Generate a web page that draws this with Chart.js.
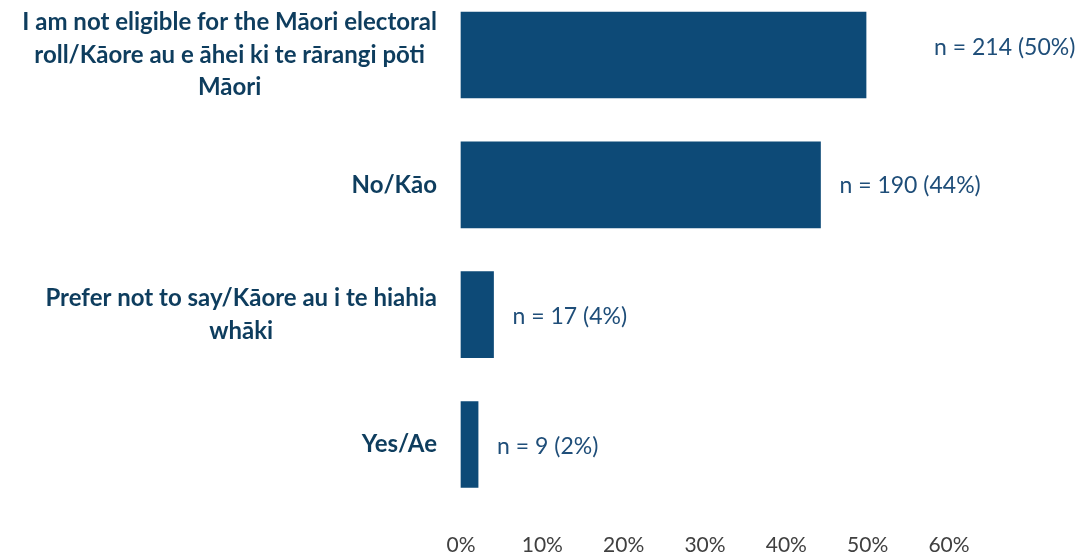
<!DOCTYPE html>
<html>
<head>
<meta charset="utf-8">
<script src="https://cdn.jsdelivr.net/npm/chart.js@4.4.1/dist/chart.umd.min.js"></script>
<style>
  html, body { margin: 0; padding: 0; background: #ffffff; }
  #wrap { width: 1079px; height: 552px; position: relative; }
</style>
</head>
<body>
<div id="wrap"><canvas id="c"></canvas></div>
<script>
// ---- data ----
const categories = [
  ["I am not eligible for the Māori electoral", "roll/Kāore au e āhei ki te rārangi pōti", "Māori"],
  ["No/Kāo"],
  ["Prefer not to say/Kāore au i te hiahia", "whāki"],
  ["Yes/Ae"]
];
const counts = [214, 190, 17, 9];
const percents = [49.8, 44.2, 4.0, 2.1];
const pctLabels = ["50%", "44%", "4%", "2%"];
const xTicks = [0, 10, 20, 30, 40, 50, 60];

const LABEL_FONT = "Lato, 'Open Sans', sans-serif";

const labelPlugin = {
  id: 'customLabels',
  afterDatasetsDraw(chart, args, opts) {
    const ctx = chart.ctx;
    const meta = chart.getDatasetMeta(0);
    const yScale = chart.scales.y;
    ctx.save();
    ctx.font = opts.catFont;
    ctx.fillStyle = opts.catColor;
    ctx.textBaseline = 'middle';
    ctx.textAlign = 'center';
    categories.forEach((lines, i) => {
      const yc = yScale.getPixelForTick(i);
      let maxW = 0;
      lines.forEach(l => { maxW = Math.max(maxW, ctx.measureText(l).width); });
      const right = chart.chartArea.left - opts.catGap;
      const cx = right - maxW / 2;
      const n = lines.length;
      lines.forEach((l, k) => {
        const y = yc + (k - (n - 1) / 2) * opts.lineHeight;
        ctx.fillText(l, cx, y);
      });
    });
    ctx.font = opts.valFont;
    ctx.fillStyle = opts.valColor;
    ctx.textAlign = 'left';
    meta.data.forEach((bar, i) => {
      const sh = opts.shifts[i] || {dx: 0, dy: 0};
      const txt = 'n = ' + counts[i] + ' (' + pctLabels[i] + ')';
      ctx.fillText(txt, bar.x + opts.valGap + sh.dx, bar.y + sh.dy + 1);
    });
    ctx.restore();
  }
};

new Chart(document.getElementById('c'), {
  type: 'bar',
  data: {
    labels: categories.map(c => c.join(' ')),
    datasets: [{
      data: percents,
      backgroundColor: '#0D4A77',
      borderWidth: 0,
      barThickness: 86,
      clip: false
    }]
  },
  options: {
    indexAxis: 'y',
    responsive: true,
    maintainAspectRatio: false,
    animation: false,
    layout: { padding: { left: 461, right: 130, top: 55, bottom: 0 } },
    scales: {
      x: {
        min: 0, max: 60,
        afterBuildTicks: (s) => { s.ticks = xTicks.map(v => ({ value: v })); },
        afterFit: (s) => { s.height = 107.5; },
        grid: { display: false },
        border: { display: false },
        ticks: {
          padding: 80,
          color: '#404040',
          font: { family: LABEL_FONT, size: 21 },
          callback: (v) => v + '%'
        }
      },
      y: {
        offset: false,
        afterFit: (s) => { s.width = 0; },
        grid: { display: false },
        border: { display: false },
        ticks: { display: false }
      }
    },
    plugins: {
      legend: { display: false },
      tooltip: { enabled: false },
      customLabels: {
        catFont: "bold 24px " + LABEL_FONT,
        catColor: '#0E3D5E',
        lineHeight: 32.5,
        catGap: 24,
        valFont: "23px " + LABEL_FONT,
        valColor: '#1F4E79',
        valGap: 19,
        shifts: [{dx: 49, dy: -8}, {dx: 0, dy: 0}, {dx: 0, dy: 1}, {dx: 0, dy: 1}]
      }
    }
  },
  plugins: [labelPlugin]
});
</script>
</body>
</html>
